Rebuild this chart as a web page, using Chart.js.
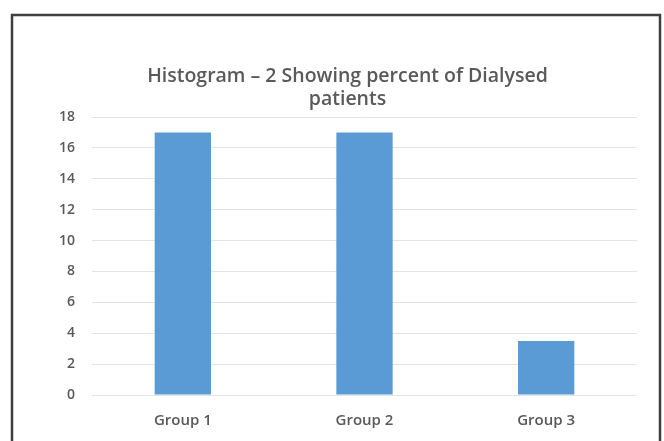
<!DOCTYPE html>
<html>
<head>
<meta charset="utf-8">
<script src="https://cdn.jsdelivr.net/npm/chart.js@4/dist/chart.umd.min.js"></script>
<style>
  html, body { margin: 0; padding: 0; background: #fff; }
  #wrap { width: 664px; height: 441px; position: relative; }
</style>
</head>
<body>
<div id="wrap"><canvas id="c" width="664" height="441"></canvas></div>
<script>
const categories = ["Group 1", "Group 2", "Group 3"];
const percentDialysed = [17, 17, 3.5];
const titleLines = ["Histogram \u2013 2 Showing percent of Dialysed", "patients"];
const yTicksMax = 18;
const yTickStep = 2;

// white page with the dark frame around the chart
const framePlugin = {
  id: "frame",
  beforeDraw(chart) {
    const ctx = chart.ctx;
    ctx.save();
    ctx.fillStyle = "#ffffff";
    ctx.fillRect(0, 0, chart.width, chart.height);
    ctx.strokeStyle = "#3f3f3f";
    ctx.lineWidth = 2.5;
    ctx.strokeRect(12, 15, 648, chart.height + 20);
    ctx.restore();
  }
};

new Chart(document.getElementById("c"), {
  type: "bar",
  data: {
    labels: categories,
    datasets: [{
      data: percentDialysed,
      backgroundColor: "#5b9bd5",
      borderWidth: 0,
      categoryPercentage: 1,
      barPercentage: 0.31
    }]
  },
  options: {
    responsive: false,
    animation: false,
    devicePixelRatio: 1,
    layout: { padding: { left: 58, right: 27, top: 65, bottom: 0 } },
    plugins: {
      legend: { display: false },
      tooltip: { enabled: false },
      title: {
        display: true,
        text: titleLines,
        color: "#595959",
        font: { family: "'Open Sans'", size: 19.5, weight: "600", lineHeight: 1.18 },
        padding: { top: 0, bottom: 6 }
      }
    },
    scales: {
      x: {
        afterFit(scale) { scale.height = 46; },
        grid: { display: false },
        border: { display: false },
        ticks: { color: "#595959", font: { family: "'Open Sans'", size: 15, weight: "600", lineHeight: 1.2 }, padding: 9 }
      },
      y: {
        min: 0,
        max: yTicksMax,
        afterFit(scale) { scale.width = 34; },
        grid: { color: "#e3e3e3", drawTicks: false, lineWidth: 1 },
        border: { display: false },
        ticks: { stepSize: yTickStep, color: "#595959", font: { family: "'Open Sans'", size: 14, weight: "600" }, padding: 17 }
      }
    }
  },
  plugins: [framePlugin]
});
</script>
</body>
</html>
